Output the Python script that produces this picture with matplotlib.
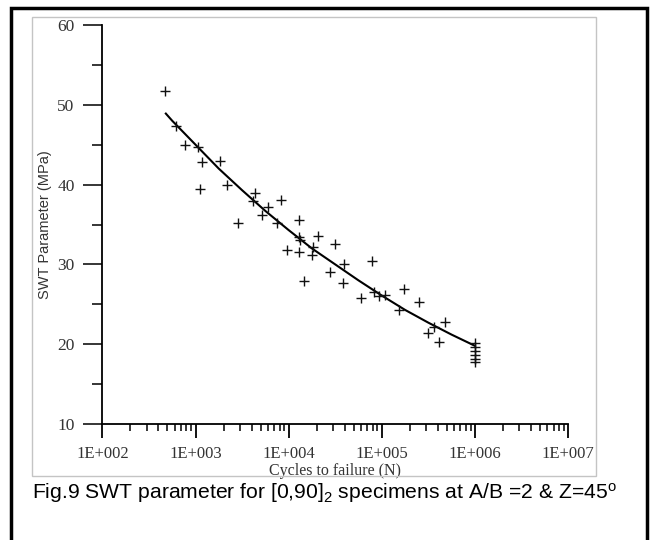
import matplotlib
matplotlib.use("Agg")
import matplotlib.pyplot as plt
from matplotlib.patches import Rectangle
from matplotlib.ticker import LogLocator, FixedLocator, NullFormatter

# test points: cycles to failure and SWT parameter (MPa)
cycles = [466, 621, 762, 1067, 1183, 1125, 1820, 2168, 2884, 4305, 4130, 6039,
          5236, 8375, 7482, 9683, 13030, 13030, 13300, 13030, 14720, 18450,
          17700, 20890, 27540, 31480, 38900, 38640, 59430, 79070, 83180, 92260,
          109600, 151400, 173800, 251200, 316200, 368100, 416900, 478600,
          1.0e6, 1.0e6, 1.0e6, 1.0e6, 1.0e6, 1.0e6]
swt = [51.7, 47.3, 45.0, 44.7, 42.8, 39.4, 43.0, 40.0, 35.2, 39.0, 37.9, 37.2,
       36.2, 38.1, 35.2, 31.8, 35.6, 33.4, 33.0, 31.5, 27.9, 32.2, 31.2, 33.5,
       29.0, 32.6, 30.0, 27.7, 25.8, 30.4, 26.5, 26.1, 26.2, 24.3, 26.9, 25.3,
       21.4, 22.1, 20.3, 22.8, 20.2, 19.7, 19.2, 18.7, 18.2, 17.8]

fit_cycles = [480, 562, 1000, 1778, 3162, 5623, 10000, 17780, 31620, 56230,
              100000, 177800, 316200, 562300, 1000000]
fit_swt = [48.9, 48.0, 45.0, 42.0, 39.3, 36.7, 34.3, 32.0, 30.0, 28.0,
           26.1, 24.3, 22.7, 21.2, 19.8]

caption = r"Fig.9 SWT parameter for [0,90]$_2$ specimens at A/B =2 & Z=45$^\mathrm{o}$"

plt.rcParams["mathtext.fontset"] = "custom"
plt.rcParams["mathtext.rm"] = "Liberation Sans"
plt.rcParams["mathtext.it"] = "Liberation Sans:italic"

W, H = 650, 540
fig = plt.figure(figsize=(W / 100, H / 100), dpi=100)
ax = fig.add_axes([102.4 / W, 1 - 424 / H, (568 - 102.4) / W, (424 - 25) / H])

ax.plot(fit_cycles, fit_swt, color="black", lw=1.5)
ax.plot(cycles, swt, ls="none", marker="+", ms=7, mew=1.0, color="#111111")

ax.set_xscale("log")
ax.set_xlim(1e2, 1e7)
ax.set_ylim(10, 60)

ax.xaxis.set_major_locator(LogLocator(base=10, numticks=10))
ax.xaxis.set_minor_locator(LogLocator(base=10, subs=range(2, 10), numticks=20))
ax.xaxis.set_minor_formatter(NullFormatter())
ax.set_xticks([1e2, 1e3, 1e4, 1e5, 1e6, 1e7])
ax.set_xticklabels(["1E+002", "1E+003", "1E+004", "1E+005", "1E+006", "1E+007"])
ax.set_yticks([10, 20, 30, 40, 50, 60])
ax.yaxis.set_minor_locator(FixedLocator([15, 25, 35, 45, 55]))

for s in ("top", "right"):
    ax.spines[s].set_visible(False)
for s in ("left", "bottom"):
    ax.spines[s].set_linewidth(1.3)

serif = ["Liberation Serif", "DejaVu Serif"]
ax.tick_params(axis="x", which="major", direction="out", length=10, width=1.3,
               pad=6, labelsize=12, labelcolor="#333333")
ax.tick_params(axis="x", which="minor", direction="out", length=5, width=1.1)
ax.tick_params(axis="y", which="major", direction="out", length=14, width=1.1,
               pad=6, labelsize=12.5, labelcolor="#333333")
ax.tick_params(axis="y", which="minor", direction="out", length=7, width=1.1)
for lab in ax.get_xticklabels() + ax.get_yticklabels():
    lab.set_family(serif)

ax.set_xlabel("Cycles to failure (N)", family=serif, fontsize=11.5,
              color="#333333", labelpad=0.5)
ax.set_ylabel("SWT Parameter (MPa)", family="Liberation Sans", fontsize=10.5,
              color="#333333", labelpad=4)

# light gray frame around the plot and heavy black frame around the page
fig.patches.append(Rectangle((32 / W, 1 - 476 / H), (596 - 32) / W, (476 - 17) / H,
                             transform=fig.transFigure, fill=False,
                             edgecolor="#c4c4c4", lw=1.0))
fig.patches.append(Rectangle((11 / W, -0.05), (647 - 11) / W, 1.05 - 8 / H,
                             transform=fig.transFigure, fill=False,
                             edgecolor="black", lw=2.5))

fig.text(32 / W, 1 - 493 / H, caption, family="Liberation Sans", fontsize=15.2,
         ha="left", va="center", color="black")

fig.savefig("out.png", dpi=100)
